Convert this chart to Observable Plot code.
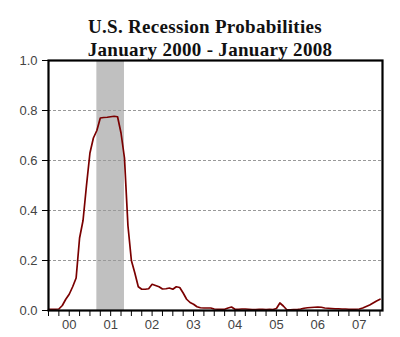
<!DOCTYPE html>
<html>
<head>
<meta charset="utf-8">
<script src="https://cdn.jsdelivr.net/npm/d3@7"></script>
<script src="https://cdn.jsdelivr.net/npm/@observablehq/plot@0.6"></script>
<style>
  html, body { margin: 0; padding: 0; background: #fff; }
  #wrap { position: relative; width: 400px; height: 337px; overflow: hidden; }
  .t { position: absolute; font-family: "Liberation Serif", "Times New Roman", serif; font-weight: bold;
       font-size: 19px; line-height: 23px; letter-spacing: 0.3px; color: #111; text-align: center; white-space: nowrap; }
  #chart { position: absolute; left: 0; top: 0; }
</style>
</head>
<body>
<div id="wrap">
  <div id="chart"></div>
  <div class="t" id="t1" style="top:15px; left:5px; width:400px;">U.S. Recession Probabilities</div>
  <div class="t" id="t2" style="top:38px; left:10px; width:400px;">January 2000 - January 2008</div>
</div>
<script>
// Monthly recession probabilities, Jan 2000 .. Jan 2008
const startYear = 2000;
const probabilities = [
  0.005,0.005,0.005,0.006,0.02,0.045,0.065,0.095,0.13,0.29,0.36,0.50,
  0.63,0.69,0.72,0.77,0.772,0.773,0.775,0.777,0.775,0.71,0.61,0.34,
  0.20,0.15,0.095,0.085,0.085,0.087,0.105,0.10,0.095,0.086,0.087,0.09,
  0.085,0.095,0.092,0.07,0.045,0.032,0.025,0.015,0.011,0.01,0.01,0.01,
  0.006,0.005,0.005,0.005,0.01,0.014,0.005,0.005,0.006,0.006,0.005,0.004,
  0.004,0.005,0.005,0.004,0.005,0.004,0.008,0.03,0.018,0.003,0.003,0.004,
  0.004,0.006,0.009,0.011,0.012,0.013,0.014,0.013,0.01,0.009,0.008,0.007,
  0.007,0.006,0.006,0.005,0.005,0.005,0.006,0.01,0.016,0.022,0.03,0.038,
  0.045
];
// Recession (NBER): March 2001 - November 2001, as decimal years
const recession = [{start: 2001 + 2/12, end: 2001 + 10/12}];
const yTicks = [0, 0.2, 0.4, 0.6, 0.8, 1.0];
const gridTicks = [0.2, 0.4, 0.6, 0.8];
const yearLabels = ["00","01","02","03","04","05","06","07"];

const data = probabilities.map((p, i) => ({t: startYear + i / 12, p}));
const quarterTicks = d3.range(0, 33).map(q => startYear + q / 4);
const labelData = yearLabels.map((s, i) => ({x: startYear + i + 0.5, s}));

const chart = Plot.plot({
  width: 400,
  height: 337,
  marginLeft: 48,
  marginRight: 18,
  marginTop: 60,
  marginBottom: 27,
  style: {fontFamily: "'Liberation Sans', Arial, sans-serif", fontSize: "13px", background: "transparent"},
  x: {domain: [2000, 2008.06]},
  y: {domain: [0, 1]},
  marks: [
    Plot.rectX(recession, {x1: "start", x2: "end", y1: 0, y2: 1, fill: "#c0c0c0"}),
    Plot.gridY(gridTicks, {stroke: "#999", strokeOpacity: 1, strokeDasharray: "3,2", strokeWidth: 1}),
    Plot.line(data, {x: "t", y: "p", stroke: "#7a0000", strokeWidth: 1.7}),
    Plot.axisY(yTicks, {tickFormat: d3.format(".1f"), tickSize: 6, tickPadding: 5, stroke: "#000", color: "#444", fontSize: 13, label: null}),
    Plot.axisX(quarterTicks, {tickFormat: () => "", tickSize: 6, stroke: "#000", label: null}),
    Plot.text(labelData, {x: "x", text: "s", frameAnchor: "bottom", dy: 18, fill: "#444", fontSize: 13}),
    Plot.frame({stroke: "#000", strokeWidth: 2.2})
  ]
});
document.getElementById("chart").appendChild(chart);
</script>
</body>
</html>
